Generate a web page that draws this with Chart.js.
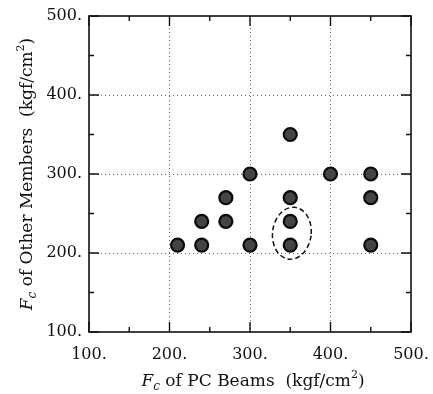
<!DOCTYPE html>
<html>
<head>
<meta charset="utf-8">
<script src="https://cdn.jsdelivr.net/npm/chart.js@4"></script>
<style>
  html, body { margin: 0; padding: 0; background: #fff; }
  #wrap { width: 433px; height: 394px; position: relative; }
</style>
</head>
<body>
<div id="wrap"><canvas id="myChart" width="433" height="394"></canvas></div>
<script>
// values
var pcBeams      = [210, 240, 240, 270, 270, 300, 300, 350, 350, 350, 350, 400, 450, 450, 450];
var otherMembers = [210, 210, 240, 240, 270, 210, 300, 210, 240, 270, 350, 300, 210, 270, 300];
var tickValues   = [100, 200, 300, 400, 500];
var minorValues  = [150, 250, 350, 450];
// dashed ring round the two points at 350
var ringCenter = [352, 225];
var ringRadius = [24, 33];

var serif = "'DejaVu Serif', 'Liberation Serif', serif";

var points = pcBeams.map(function(x, i) { return { x: x, y: otherMembers[i] }; });

// rich text: italic F, subscript c, rest, superscript 2
function drawTitle(ctx, rest) {
    var parts = [
        { t: 'F', f: 'italic 17px ' + serif, dy: 0 },
        { t: 'c', f: 'italic 12px ' + serif, dy: 5 },
        { t: ' of ' + rest + '  (kgf/cm', f: '17px ' + serif, dy: 0 },
        { t: '2', f: '11px ' + serif, dy: -7 },
        { t: ')', f: '17px ' + serif, dy: 0 }
    ];
    var w = 0;
    parts.forEach(function(p) { ctx.font = p.f; w += ctx.measureText(p.t).width; });
    var x = -w / 2;
    ctx.textBaseline = 'middle';
    ctx.textAlign = 'left';
    parts.forEach(function(p) {
        ctx.font = p.f;
        ctx.fillText(p.t, x, p.dy);
        x += ctx.measureText(p.t).width;
    });
}

var framePlugin = {
    id: 'frame',
    afterDraw: function(chart) {
        var ctx = chart.ctx, a = chart.chartArea;
        var xs = chart.scales.x, ys = chart.scales.y;
        ctx.save();
        ctx.strokeStyle = '#111';
        ctx.lineWidth = 1.6;
        ctx.strokeRect(a.left, a.top, a.right - a.left, a.bottom - a.top);
        // inward ticks on all four sides
        ctx.lineWidth = 1.4;
        function tick(vals, len) {
            vals.forEach(function(v) {
                var px = xs.getPixelForValue(v), py = ys.getPixelForValue(v);
                ctx.beginPath();
                ctx.moveTo(px, a.bottom); ctx.lineTo(px, a.bottom - len);
                ctx.moveTo(px, a.top); ctx.lineTo(px, a.top + len);
                ctx.moveTo(a.left, py); ctx.lineTo(a.left + len, py);
                ctx.moveTo(a.right, py); ctx.lineTo(a.right - len, py);
                ctx.stroke();
            });
        }
        tick(tickValues, 10);
        tick(minorValues, 5);

        // dashed ellipse
        var cx = xs.getPixelForValue(ringCenter[0]), cy = ys.getPixelForValue(ringCenter[1]);
        var rx = xs.getPixelForValue(ringCenter[0] + ringRadius[0]) - cx;
        var ry = cy - ys.getPixelForValue(ringCenter[1] + ringRadius[1]);
        ctx.setLineDash([5, 3]);
        ctx.lineWidth = 1.5;
        ctx.beginPath();
        ctx.ellipse(cx, cy, rx, ry, 0.12, 0, Math.PI * 2);
        ctx.stroke();
        ctx.setLineDash([]);

        // axis titles
        ctx.fillStyle = '#111';
        ctx.save();
        ctx.translate((a.left + a.right) / 2 + 3, 382);
        drawTitle(ctx, 'PC Beams');
        ctx.restore();
        ctx.save();
        ctx.translate(28, (a.top + a.bottom) / 2);
        ctx.rotate(-Math.PI / 2);
        drawTitle(ctx, 'Other Members');
        ctx.restore();
        ctx.restore();
    }
};

function gridColor(c) {
    var v = c.tick && c.tick.value;
    return (v === 100 || v === 500) ? 'rgba(0,0,0,0)' : '#666';
}

var ctx = document.getElementById('myChart').getContext('2d');
var myChart = new Chart(ctx, {
    type: 'scatter',
    data: {
        datasets: [{
            data: points,
            backgroundColor: '#444',
            borderColor: '#0a0a0a',
            borderWidth: 2.2,
            pointRadius: 6.5
        }]
    },
    options: {
        responsive: false,
        animation: false,
        layout: { padding: { left: 0, top: 16, right: 22, bottom: 0 } },
        plugins: { legend: { display: false }, tooltip: { enabled: false } },
        scales: {
            x: {
                min: 100, max: 500,
                afterFit: function(s) { s.height = 62; s.paddingLeft = 0; s.paddingRight = 0; },
                afterBuildTicks: function(s) { s.ticks = tickValues.map(function(v) { return { value: v }; }); },
                ticks: {
                    padding: 13, color: '#111', maxRotation: 0,
                    font: { family: serif, size: 16 },
                    callback: function(v) { return v + '.'; }
                },
                grid: { color: gridColor, lineWidth: 1, drawTicks: false },
                border: { display: false, dash: [1, 3] }
            },
            y: {
                min: 100, max: 500,
                afterFit: function(s) { s.width = 89; s.paddingTop = 0; s.paddingBottom = 0; },
                afterBuildTicks: function(s) { s.ticks = tickValues.map(function(v) { return { value: v }; }); },
                ticks: {
                    padding: 7, color: '#111',
                    font: { family: serif, size: 16 },
                    callback: function(v) { return v + '.'; }
                },
                grid: { color: gridColor, lineWidth: 1, drawTicks: false },
                border: { display: false, dash: [1, 3] }
            }
        }
    },
    plugins: [framePlugin]
});
</script>
</body>
</html>
